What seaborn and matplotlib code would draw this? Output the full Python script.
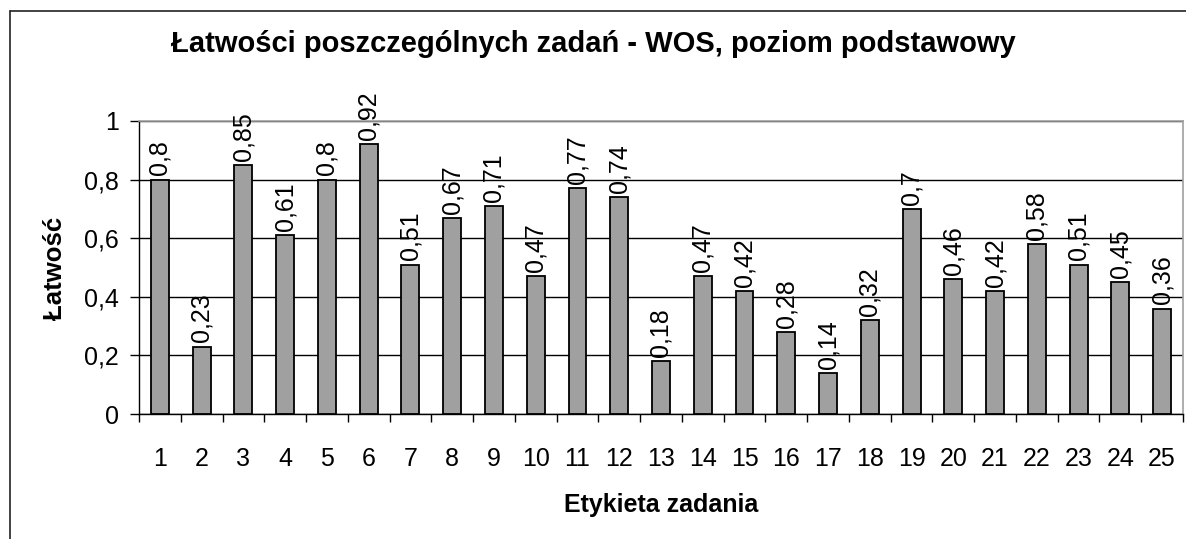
import matplotlib
matplotlib.use("Agg")
import matplotlib.pyplot as plt
import seaborn as sns
import pandas as pd
from matplotlib.lines import Line2D
from matplotlib.ticker import FixedLocator

tasks = [str(i) for i in range(1, 26)]
values = [0.8, 0.23, 0.85, 0.61, 0.8, 0.92, 0.51, 0.67, 0.71, 0.47, 0.77, 0.74,
          0.18, 0.47, 0.42, 0.28, 0.14, 0.32, 0.7, 0.46, 0.42, 0.58, 0.51, 0.45, 0.36]
yticks = [0, 0.2, 0.4, 0.6, 0.8, 1.0]
ytick_labels = ["0", "0,2", "0,4", "0,6", "0,8", "1"]
title = "Łatwości poszczególnych zadań - WOS, poziom podstawowy"
xlabel = "Etykieta zadania"
ylabel = "Łatwość"

sns.set_theme(style="white")
plt.rcParams['font.family'] = ['Liberation Sans', 'DejaVu Sans']

W, H = 1186, 539
fig = plt.figure(figsize=(W / 100, H / 100), dpi=100)
ax = fig.add_axes([139 / W, 125 / H, (1183 - 139) / W, (414 - 121) / H])

df = pd.DataFrame({"task": tasks, "value": values})
sns.barplot(data=df, x="task", y="value", ax=ax, color="#a0a0a0",
            saturation=1, edgecolor="black", linewidth=1.3, width=0.43, zorder=3)

ax.set_ylim(0, 1)
ax.set_xlim(-0.5, len(tasks) - 0.5)
ax.set_yticks(yticks)
ax.set_yticklabels(ytick_labels, fontsize=18)
ax.tick_params(axis="y", which="major", direction="out", length=6.5, width=1,
               color="black", left=True, pad=8, labelcolor="black")
ax.tick_params(axis="x", which="major", length=0, pad=24, labelsize=18,
               labelcolor="black")
ax.xaxis.set_minor_locator(FixedLocator([i - 0.5 for i in range(len(tasks) + 1)]))
ax.tick_params(axis="x", which="minor", direction="out", length=6, width=1,
               color="black", bottom=True)

ax.yaxis.grid(True, color="black", linewidth=1)
ax.set_axisbelow(True)
for s in ["left", "bottom"]:
    ax.spines[s].set_color("black")
    ax.spines[s].set_linewidth(1)
for s in ["top", "right"]:
    ax.spines[s].set_color("#a0a0a0")
    ax.spines[s].set_linewidth(1.2)

for i, v in enumerate(values):
    lab = f"{v:g}".replace(".", ",")
    ax.annotate(lab, xy=(i, v), xytext=(0, 3), textcoords="offset points",
                rotation=90, ha="center", va="bottom", fontsize=18,
                color="black", annotation_clip=False)

ax.set_xlabel("")
ax.set_ylabel("")
fig.text(661 / W, 1 - 512 / H, xlabel, ha="center", va="baseline",
         fontsize=18, fontweight="bold", color="black")
fig.text(55 / W, 1 - 268 / H, ylabel, ha="center", va="center", rotation=90,
         fontsize=18.5, fontweight="bold", color="black")

fig.text(593 / W, 1 - 52 / H, title, ha="center", va="baseline",
         fontsize=21, fontweight="bold", color="black")

# outer chart frame (partially off-canvas)
fig.add_artist(Line2D([10 / W, 1.0], [1 - 11 / H, 1 - 11 / H],
                      transform=fig.transFigure, color="#222222", linewidth=1.2))
fig.add_artist(Line2D([10 / W, 10 / W], [0, 1 - 11 / H],
                      transform=fig.transFigure, color="#222222", linewidth=1.2))

fig.savefig("out.png", dpi=100, facecolor="white")
